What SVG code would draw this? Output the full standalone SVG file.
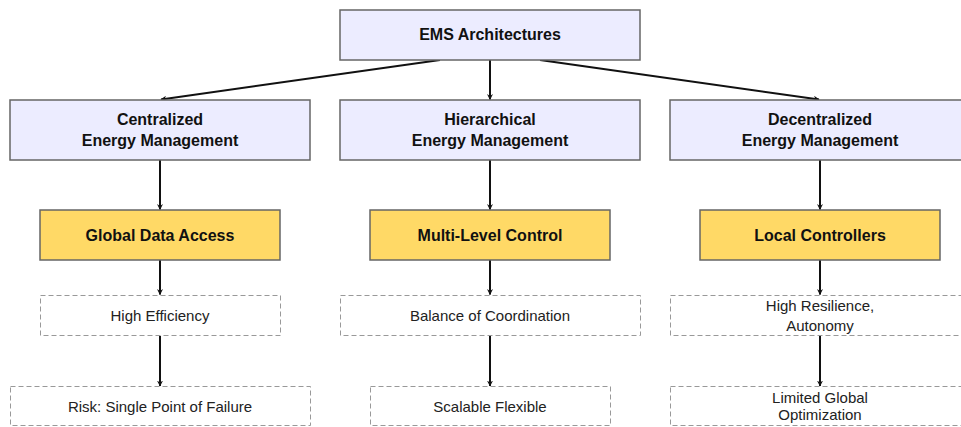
<svg xmlns="http://www.w3.org/2000/svg" width="961" height="427" viewBox="0 0 961 427">
<style>
.main{fill:#ECECFF;stroke:#666;stroke-width:1.5}
.key{fill:#FFD966;stroke:#666;stroke-width:1.5}
.note{fill:#fff;stroke:#999;stroke-width:1;stroke-dasharray:5,3}
.b{font-family:"Liberation Sans",Arial,sans-serif;font-weight:bold;font-size:16px;fill:#111;text-anchor:middle}
.n{font-family:"Liberation Sans",Arial,sans-serif;font-size:15px;fill:#222;text-anchor:middle}
.edge{stroke:#111;stroke-width:2;fill:none;marker-end:url(#arr)}
</style>
<defs>
<marker id="arr" viewBox="0 0 10 10" refX="9" refY="5" markerWidth="6" markerHeight="6" orient="auto" markerUnits="userSpaceOnUse">
<path d="M0,0 L10,5 L0,10 L3,5 z" fill="#111"/>
</marker>
</defs>
<rect width="961" height="427" fill="#fff"/>
<g id="connectors">
<line class="edge" x1="440" y1="60" x2="161" y2="99.5"/>
<line class="edge" x1="490" y1="60" x2="490" y2="99.5"/>
<line class="edge" x1="540" y1="60" x2="819" y2="99.5"/>
<line class="edge" x1="160" y1="160" x2="160" y2="209.5"/>
<line class="edge" x1="490" y1="160" x2="490" y2="209.5"/>
<line class="edge" x1="820" y1="160" x2="820" y2="209.5"/>
<line class="edge" x1="160" y1="260" x2="160" y2="294.5"/>
<line class="edge" x1="490" y1="260" x2="490" y2="294.5"/>
<line class="edge" x1="820" y1="260" x2="820" y2="294.5"/>
<line class="edge" x1="160" y1="336" x2="160" y2="386"/>
<line class="edge" x1="490" y1="336" x2="490" y2="386"/>
<line class="edge" x1="820" y1="336" x2="820" y2="386"/>
</g>
<g id="ems"><rect class="main" x="340" y="10" width="300" height="50"/><text class="b" x="490" y="40">EMS Architectures</text></g>
<g id="central"><rect class="main" x="10" y="100" width="300" height="60"/><text class="b" x="160" y="125">Centralized</text><text class="b" x="160" y="146">Energy Management</text></g>
<g id="hier"><rect class="main" x="340" y="100" width="300" height="60"/><text class="b" x="490" y="125">Hierarchical</text><text class="b" x="490" y="146">Energy Management</text></g>
<g id="decent"><rect class="main" x="670" y="100" width="300" height="60"/><text class="b" x="820" y="125">Decentralized</text><text class="b" x="820" y="146">Energy Management</text></g>
<g id="gda"><rect class="key" x="40" y="210" width="240" height="50"/><text class="b" x="160" y="241">Global Data Access</text></g>
<g id="mlc"><rect class="key" x="370" y="210" width="240" height="50"/><text class="b" x="490" y="241">Multi-Level Control</text></g>
<g id="lc"><rect class="key" x="700" y="210" width="240" height="50"/><text class="b" x="820" y="241">Local Controllers</text></g>
<g id="he"><rect class="note" x="40.5" y="295.5" width="240" height="40"/><text class="n" x="160" y="321">High Efficiency</text></g>
<g id="boc"><rect class="note" x="340.5" y="295.5" width="300" height="40"/><text class="n" x="490" y="321">Balance of Coordination</text></g>
<g id="hra"><rect class="note" x="670.5" y="295.5" width="300" height="40"/><text class="n" x="820" y="311">High Resilience,</text><text class="n" x="820" y="331">Autonomy</text></g>
<g id="risk"><rect class="note" x="10.5" y="386.5" width="300" height="39"/><text class="n" x="160" y="412">Risk: Single Point of Failure</text></g>
<g id="sf"><rect class="note" x="370.5" y="386.5" width="240" height="39"/><text class="n" x="490" y="412">Scalable Flexible</text></g>
<g id="lgo"><rect class="note" x="670.5" y="386.5" width="300" height="39"/><text class="n" x="820" y="403">Limited Global</text><text class="n" x="820" y="420">Optimization</text></g>
</svg>
